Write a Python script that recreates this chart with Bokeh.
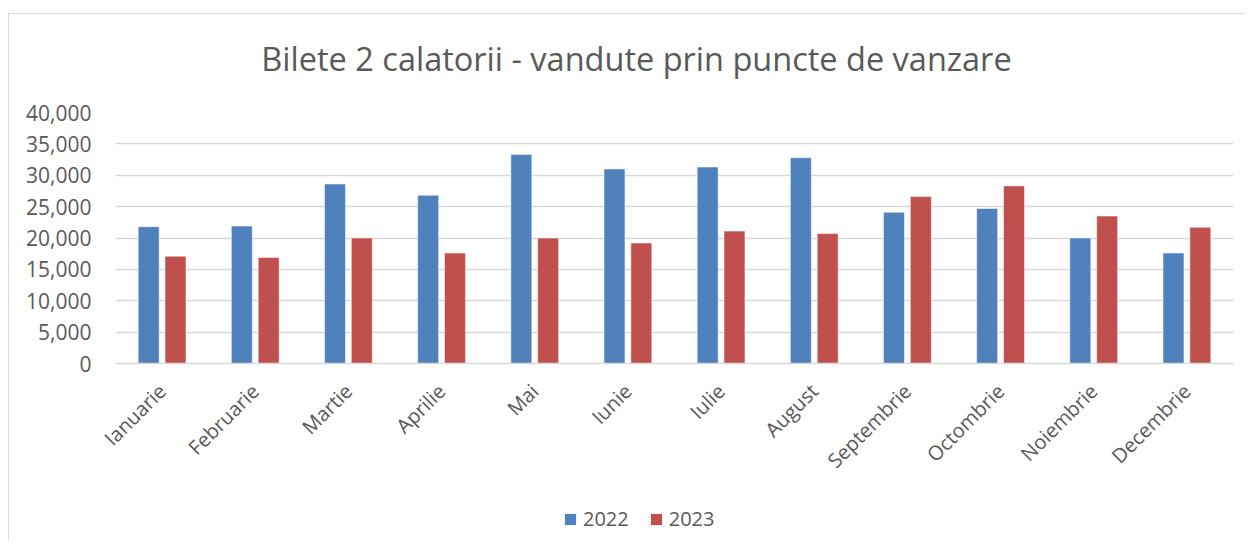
import math
from bokeh.plotting import figure
from bokeh.layouts import column
from bokeh.models import (ColumnDataSource, FactorRange, NumeralTickFormatter, Legend, LegendItem,
                          FixedTicker, Label, Range1d)
from bokeh.transform import dodge
from bokeh.embed import file_html
from bokeh.resources import INLINE

months = ["Ianuarie", "Februarie", "Martie", "Aprilie", "Mai", "Iunie",
          "Iulie", "August", "Septembrie", "Octombrie", "Noiembrie", "Decembrie"]
v2022 = [21800, 21900, 28600, 26800, 33300, 31000, 31300, 32800, 24100, 24700, 20000, 17600]
v2023 = [17100, 16900, 20000, 17600, 20000, 19200, 21100, 20700, 26600, 28300, 23500, 21700]
series = ["2022", "2023"]
y_ticks = [0, 5000, 10000, 15000, 20000, 25000, 30000, 35000, 40000]
title_text = "Bilete 2 calatorii - vandute prin puncte de vanzare"

FONT = "Open Sans"
TXT = "#595959"
BLUE = "#4F81BD"
RED = "#C0504D"
W = 1235
BL, BR = 106, 11

src = ColumnDataSource(dict(m=months, a=v2022, b=v2023))

# ---- title strip (ranges expressed in page pixels) ----
tf = figure(width=W, height=84, output_backend="svg", toolbar_location=None,
            min_border_left=BL, min_border_right=BR, min_border_top=0, min_border_bottom=0,
            x_range=Range1d(115, 1233), y_range=Range1d(98, 14))
tf.axis.visible = False
tf.grid.visible = False
tf.outline_line_color = None
tf.add_layout(Label(x=636, y=58, text=title_text, text_align="center",
                    text_baseline="alphabetic", text_font=FONT, text_font_size="32.5px",
                    text_color=TXT))

# ---- main chart ----
p = figure(x_range=FactorRange(*months, range_padding=0), y_range=(0, 40000),
           width=W, height=390, output_backend="svg", toolbar_location=None,
           min_border_left=BL, min_border_right=BR, min_border_top=14, min_border_bottom=125)

r1 = p.vbar(x=dodge("m", -0.144, range=p.x_range), top="a", width=0.225, source=src,
            fill_color=BLUE, line_color="#ffffff", line_alpha=0.5, line_width=1)
r2 = p.vbar(x=dodge("m", 0.144, range=p.x_range), top="b", width=0.225, source=src,
            fill_color=RED, line_color="#ffffff", line_alpha=0.5, line_width=1)

p.outline_line_color = None
p.xgrid.grid_line_color = None
p.ygrid.grid_line_color = "#d9d9d9"
p.ygrid.grid_line_width = 1.5
p.yaxis.ticker = FixedTicker(ticks=y_ticks)
p.yaxis.formatter = NumeralTickFormatter(format="0,0")
p.yaxis.axis_line_color = None
p.yaxis.major_tick_line_color = None
p.yaxis.minor_tick_line_color = None
p.yaxis.major_label_standoff = 18
p.yaxis.major_label_text_font = FONT
p.yaxis.major_label_text_font_size = "21px"
p.yaxis.major_label_text_color = TXT

p.xaxis.axis_line_color = "#d9d9d9"
p.xaxis.axis_line_width = 1.5
p.xaxis.major_tick_line_color = None
p.xaxis.minor_tick_line_color = None
p.xaxis.major_label_orientation = math.pi / 4
p.xaxis.major_label_standoff = 18
p.xaxis.major_label_text_font = FONT
p.xaxis.major_label_text_font_size = "20px"
p.xaxis.major_label_text_color = TXT

# ---- legend strip ----
lf = figure(width=W, height=53, output_backend="svg", toolbar_location=None,
            min_border_left=BL, min_border_right=BR, min_border_top=0, min_border_bottom=0,
            x_range=p.x_range, y_range=Range1d(-2, -1))
lf.axis.visible = False
lf.grid.visible = False
lf.outline_line_color = None
# zero-height, zero-width copies of the series outside this strip's view:
# only their legend swatches show
l1 = lf.vbar(x="m", top="a", bottom="a", width=0, source=src, fill_color=BLUE, line_color=None)
l2 = lf.vbar(x="m", top="b", bottom="b", width=0, source=src, fill_color=RED, line_color=None)

legend = Legend(items=[LegendItem(label=series[0], renderers=[l1]),
                       LegendItem(label=series[1], renderers=[l2])],
                orientation="horizontal", location=(448, 9))
legend.padding = 0
legend.margin = 0
legend.spacing = 20
legend.glyph_width = 14
legend.glyph_height = 14
legend.label_standoff = 6
legend.label_text_font = FONT
legend.label_text_font_size = "20px"
legend.label_text_color = TXT
legend.border_line_color = None
legend.background_fill_alpha = 0
lf.add_layout(legend)

layout = column(tf, p, lf, spacing=0)
layout.styles = {"border-left": "1px solid #d9d9d9", "border-top": "1px solid #d9d9d9",
                 "margin-top": "13px", "margin-left": "8px"}

open("out.html", "w").write(file_html(layout, INLINE))
